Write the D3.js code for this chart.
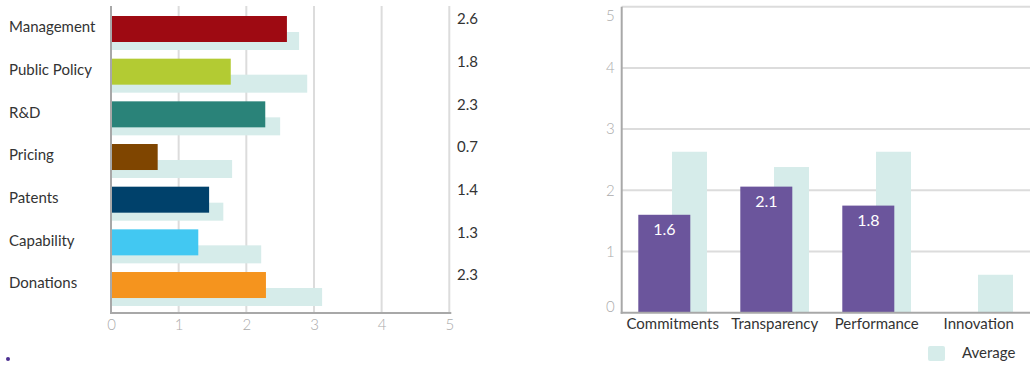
<!DOCTYPE html>
<html><head><meta charset="utf-8">
<script src="https://cdn.jsdelivr.net/npm/d3@7"></script>
<style>
html,body{margin:0;padding:0;background:#fff;}
svg{display:block;font-family:"Lato",sans-serif;}
</style></head>
<body><svg id="c" width="1030" height="365"></svg>
<script>
// Left chart data
const leftCategories = ["Management","Public Policy","R&D","Pricing","Patents","Capability","Donations"];
const leftValues = [2.6, 1.77, 2.28, 0.69, 1.45, 1.29, 2.29];
const leftLabels = ["2.6","1.8","2.3","0.7","1.4","1.3","2.3"];
const leftAverages = [2.78, 2.9, 2.5, 1.79, 1.66, 2.22, 3.12];
const leftColors = ["#9e0a12","#b3cb33","#2a8379","#7f4500","#00416b","#42c8f2","#f5941e"];
const leftTicks = [0,1,2,3,4,5];
// Right chart data
const rightCategories = ["Commitments","Transparency","Performance","Innovation"];
const rightValues = [1.6, 2.06, 1.75, 0];
const rightLabels = ["1.6","2.1","1.8",""];
const rightAverages = [2.63, 2.38, 2.63, 0.62];
const rightTicks = [0,1,2,3,4,5];
const legendLabel = "Average";

const avgColor = "#d6ecea", purple = "#6b559c", grid = "#dcdcdc", axisCol = "#a8a8a8", tickCol = "#ababab", textCol = "#333";
const FS = 15;
const svg = d3.select("#c");

// ---------- Left chart ----------
const L = {left:111, right:449.3, top:6, bottom:313};
const xL = d3.scaleLinear().domain([0,5]).range([L.left, L.right]);
const yL = d3.scaleBand().domain(leftCategories).range([L.top+8, L.top+8+42.67*7]);
const gL = svg.append("g");
gL.selectAll("line.grid").data(leftTicks.slice(1)).join("line")
  .attr("x1", d=>xL(d)).attr("x2", d=>xL(d)).attr("y1", L.top).attr("y2", L.bottom)
  .attr("stroke", grid).attr("stroke-width", 2);
gL.selectAll("rect.avg").data(leftCategories).join("rect")
  .attr("x", xL(0)).attr("y", (d)=>yL(d)+18).attr("height", 18)
  .attr("width", (d,i)=>xL(leftAverages[i])-xL(0)).attr("fill", avgColor);
gL.selectAll("rect.val").data(leftCategories).join("rect")
  .attr("x", xL(0)).attr("y", (d)=>yL(d)+2).attr("height", 26)
  .attr("width", (d,i)=>xL(leftValues[i])-xL(0)).attr("fill", (d,i)=>leftColors[i]);
const xAxisL = d3.axisBottom(xL).tickValues(leftTicks).tickFormat(d3.format("d")).tickSize(0).tickPadding(6);
const gxL = gL.append("g").attr("transform", `translate(0,${L.bottom})`).call(xAxisL);
gxL.select(".domain").attr("stroke", axisCol).attr("stroke-width", 2).attr("d", `M${L.left-1},0H${L.right+2}`);
gxL.selectAll("text").attr("fill", tickCol).attr("font-size", FS).attr("font-family", "Lato").attr("font-weight", 300);
gL.append("line").attr("x1", L.left).attr("x2", L.left).attr("y1", L.top).attr("y2", L.bottom+1)
  .attr("stroke", axisCol).attr("stroke-width", 2);
gL.selectAll("text.cat").data(leftCategories).join("text")
  .attr("x", 9).attr("y", d=>yL(d)+13).attr("dy","0.35em")
  .attr("fill", textCol).attr("font-size", FS).text(d=>d);
gL.selectAll("text.vl").data(leftLabels).join("text")
  .attr("x", 457).attr("y", (d,i)=>yL(leftCategories[i])+5).attr("dy","0.35em")
  .attr("fill", textCol).attr("font-size", FS).text(d=>d);

// ---------- Right chart ----------
const R = {left:621.7, right:1030, top:6.7, bottom:312.7};
const yR = d3.scaleLinear().domain([0,5]).range([R.bottom, R.top]);
const xR = d3.scaleBand().domain(rightCategories).range([R.left, R.left+102*4]);
const gR = svg.append("g");
gR.selectAll("line.grid").data(rightTicks.slice(1)).join("line")
  .attr("x1", R.left).attr("x2", R.right).attr("y1", d=>yR(d)).attr("y2", d=>yR(d))
  .attr("stroke", grid).attr("stroke-width", 2);
const cx = d => xR(d) + xR.bandwidth()/2;
gR.selectAll("rect.avg").data(rightCategories).join("rect")
  .attr("x", d=>cx(d)-0.7).attr("width", 35)
  .attr("y", (d,i)=>yR(rightAverages[i])).attr("height", (d,i)=>yR(0)-yR(rightAverages[i]))
  .attr("fill", avgColor);
gR.selectAll("rect.val").data(rightCategories).join("rect")
  .attr("x", d=>cx(d)-34.4).attr("width", 52)
  .attr("y", (d,i)=>yR(rightValues[i])).attr("height", (d,i)=>yR(0)-yR(rightValues[i]))
  .attr("fill", purple);
gR.selectAll("text.vl").data(rightCategories).join("text")
  .attr("x", d=>cx(d)-8.4).attr("y", (d,i)=>yR(rightValues[i])+15).attr("dy","0.35em")
  .attr("text-anchor","middle").attr("fill","#fff").attr("font-size", 16)
  .text((d,i)=>rightLabels[i]);
const yAxisR = d3.axisLeft(yR).tickValues(rightTicks).tickFormat(d3.format("d")).tickSize(0).tickPadding(7);
const gyR = gR.append("g").attr("transform", `translate(${R.left},0)`).call(yAxisR);
gyR.select(".domain").attr("stroke", axisCol).attr("stroke-width", 2).attr("d", `M0,${R.top}V${R.bottom+1}`);
gyR.selectAll("text").attr("fill", tickCol).attr("font-size", FS).attr("font-family", "Lato").attr("font-weight", 300)
  .attr("dy", d => d===5 ? "0.95em" : (d===0 ? "-0.05em" : "0.32em"));
const xAxisR = d3.axisBottom(xR).tickSize(0).tickPadding(6);
const gxR = gR.append("g").attr("transform", `translate(0,${R.bottom})`).call(xAxisR);
gxR.select(".domain").attr("stroke", axisCol).attr("stroke-width", 2).attr("d", `M${R.left-1},0H${R.right}`);
gxR.selectAll("text").attr("fill", textCol).attr("font-size", FS).attr("font-family", "Lato");
svg.append("rect").attr("x", 928).attr("y", 346).attr("width", 17).attr("height", 15).attr("rx", 2).attr("fill", avgColor);
svg.append("text").attr("x", 962).attr("y", 353).attr("dy","0.35em").attr("fill", textCol).attr("font-size", FS).text(legendLabel);
svg.append("circle").attr("cx", 8).attr("cy", 359).attr("r", 2).attr("fill", "#4b2f91");
</script></body></html>
